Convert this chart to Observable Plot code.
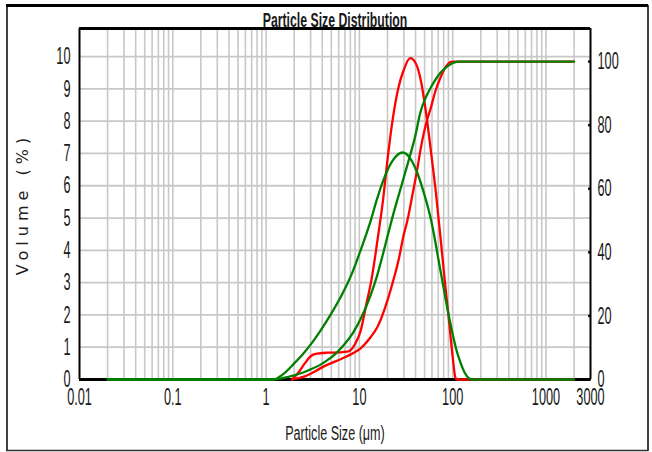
<!DOCTYPE html>
<html><head><meta charset="utf-8">
<script src="https://cdn.jsdelivr.net/npm/d3@7"></script>
<script src="https://cdn.jsdelivr.net/npm/@observablehq/plot@0.6"></script>
<style>body{margin:0;background:#fff}</style>
</head><body><div id="chart"></div>
<script>
// ---- data ----
const redFreqSize = [1.9,2.2,2.6,3.0,3.5,4.5,6,7.4,8,9,10.3,12,13.5,15.6,18,20,22.6,26,30,35,40,46,51,60,66,74,82,90,100,107,112,2000];
const redFreqVol  = [0,0.2,0.5,0.72,0.8,0.83,0.84,0.86,0.9,1.1,1.5,2.4,3.1,4.3,5.6,6.8,8.0,9.0,9.6,9.95,9.8,9.2,8.4,6.8,5.8,4.4,3.1,2.0,0.7,0.05,0,0];
const redCumSize  = [1.9,2.2,2.6,3.0,3.8,4.5,6.2,8.6,10.3,13.1,15.6,19.8,23,26.5,29.6,32.7,37,41.9,45,53.6,57.7,65,74,85,93,100,2000];
const redCumPct   = [0,0.4,1.0,1.8,3.5,4.6,6.3,8.3,9.8,13.2,16.5,24.5,31,38,45,50,58,66.5,72,82,85,90.5,95,98.5,99.8,100,100];
const greenFreqSize = [0.02,1.2,1.5,2.0,2.5,3.0,3.8,4.9,6.7,8.5,10.3,13,15.5,18,23,29,35,42,50,58,74,93,110,119,135,150,160,2000];
const greenFreqVol  = [0,0,0.15,0.5,0.8,1.08,1.5,2.0,2.7,3.35,4.0,4.85,5.6,6.16,6.8,7.03,6.85,6.38,5.7,5.0,3.37,1.83,0.9,0.59,0.2,0.03,0,0];
const greenCumSize  = [0.02,1.2,1.4,2.0,2.5,3.0,3.8,4.5,5.5,6.7,8.6,10.3,13,15.6,18.1,20.4,22.6,27,32.7,40,45,52,60,74,87,101,120,2000];
const greenCumPct   = [0,0,0.3,1.3,2.2,3.2,4.6,6.0,8.0,10.6,14.8,19,26,33,40,46,51,59,67.5,77,84,89,92.5,96.5,98.4,99.6,100,100];

const xTickLabels = [0.01,0.1,1,10,100,1000,3000];
const yTickLabels = [0,1,2,3,4,5,6,7,8,9,10];
const cumTickLabels = [0,20,40,60,80,100];

// ---- scale helpers ----
const Y_TOP = 10.87;           // left axis top of frame
const CUM_TOP = 110.4;         // right axis top of frame
const K = Y_TOP / CUM_TOP;     // cumulative % -> left units
const X_MAX = 3000;

const gridX = [];
for (const p of [0.01,0.1,1,10,100,1000]) for (let m = 1; m <= 9; m++) { const v = +(m*p).toPrecision(3); if (v > 0.01 && v < 3000) gridX.push(v); }
const gridY = yTickLabels.filter(d => d > 0);

const toRows = (xs, ys, f = 1) => xs.map((x, i) => ({x, y: ys[i] * f}));
const rf = toRows(redFreqSize, redFreqVol);
const rc = toRows(redCumSize, redCumPct, K);
const gf = toRows(greenFreqSize, greenFreqVol);
const gc = toRows(greenCumSize, greenCumPct, K);

const RED = "#ff0000", GREEN = "#008000", GRID = "#c8c8c8";
const lineOpts = (stroke) => ({x: "x", y: "y", stroke, strokeWidth: 2.3, curve: "monotone-x"});

const plot = Plot.plot({
  width: 652, height: 452,
  marginLeft: 79, marginRight: 62, marginTop: 28, marginBottom: 73,
  style: {fontFamily: "'Liberation Sans', Arial, sans-serif", color: "#1a1a1a", background: "#fff"},
  x: {type: "log", domain: [0.01, X_MAX], axis: null},
  y: {domain: [0, Y_TOP]},
  marks: [
    Plot.ruleX(gridX, {stroke: GRID, strokeWidth: 1.6}),
    Plot.ruleY(gridY, {stroke: GRID, strokeWidth: 1.8}),
    Plot.text(xTickLabels, {x: d => d, frameAnchor: "bottom", dy: 8, lineAnchor: "top", text: d => String(d), fontSize: 24, fill: "#1a1a1a", className: "xtl"}),
    Plot.axisY({ticks: yTickLabels, tickFormat: d => String(d), tickSize: 0, tickPadding: 9, fontSize: 24, label: null}),
    Plot.axisY({anchor: "right", ticks: cumTickLabels.map(c => c * K), tickFormat: d => String(Math.round(d / K)), tickSize: -3, tickPadding: 10, strokeWidth: 2.5, fontSize: 24, label: null}),
    Plot.ruleY([0], {stroke: "#000", strokeWidth: 3}),
    Plot.ruleY([Y_TOP], {stroke: "#000", strokeWidth: 3}),
    Plot.ruleX([0.01], {stroke: "#000", strokeWidth: 2}),
    Plot.ruleX([X_MAX], {stroke: "#000", strokeWidth: 2}),
    Plot.line(rf, lineOpts(RED)),
    Plot.line(rc, lineOpts(RED)),
    Plot.line(gf, lineOpts(GREEN)),
    Plot.line(gc, lineOpts(GREEN)),
    Plot.text(["Particle Size Distribution"], {frameAnchor: "top", dy: -2, lineAnchor: "bottom", fontWeight: "bold", fontSize: 19.5, className: "ttl"}),
    Plot.text(["Particle Size (μm)"], {frameAnchor: "bottom", dy: 46, lineAnchor: "top", fontSize: 21, className: "xlab"}),
    Plot.text(["Volume (%)"], {frameAnchor: "left", dx: -57, rotate: -90, textAnchor: "middle", fontSize: 16, fontFamily: "'DejaVu Sans', Verdana, sans-serif", fill: "#222", className: "ylab"})
  ]
});

// condense the narrow-looking texts
function condense(sel, sx) {
  d3.select(plot).selectAll(sel).each(function () {
    let t = this.getAttribute("transform");
    if (!t) {
      const x = this.getAttribute("x") || 0, y = this.getAttribute("y") || 0;
      t = `translate(${x},${y})`;
      this.removeAttribute("x"); this.removeAttribute("y");
    }
    this.setAttribute("transform", t + ` scale(${sx},1)`);
  });
}
condense('g[aria-label$="tick label"] text', 0.53);
condense('g.xtl text', 0.53);
condense('g.ttl text', 0.63);
condense('g.xlab text', 0.6);
d3.select(plot).selectAll('g.ylab text').style("letter-spacing", "5px");

// outer border
const svg = d3.select(plot);
svg.append("line").attr("x1", 6).attr("x2", 648).attr("y1", 5.5).attr("y2", 5.5).attr("stroke", "#000").attr("stroke-width", 3);
svg.append("line").attr("x1", 7).attr("x2", 7).attr("y1", 5).attr("y2", 451).attr("stroke", "#000").attr("stroke-width", 1.5);
svg.append("line").attr("x1", 648).attr("x2", 648).attr("y1", 5).attr("y2", 451).attr("stroke", "#000").attr("stroke-width", 1.5);
svg.append("line").attr("x1", 6).attr("x2", 648).attr("y1", 450.5).attr("y2", 450.5).attr("stroke", "#333").attr("stroke-width", 1.5);

document.getElementById("chart").append(plot);
</script>
</body></html>
